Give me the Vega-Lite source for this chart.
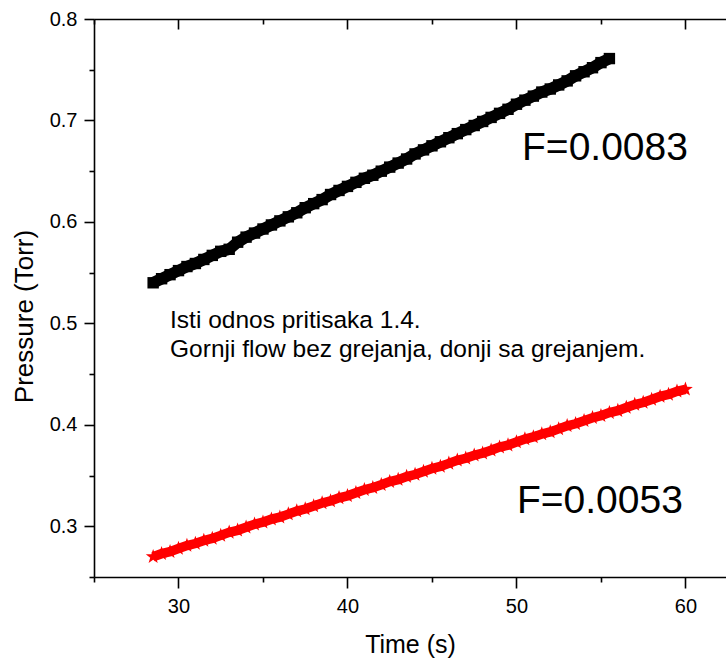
{
  "$schema": "https://vega.github.io/schema/vega-lite/v6.json",
  "autosize": {"type": "none"},
  "padding": {"left": 94, "top": 19, "right": 0, "bottom": 84},
  "width": 632,
  "height": 558,
  "background": "white",
  "config": {
    "view": {"stroke": null},
    "font": "Liberation Sans",
    "axis": {
      "grid": false,
      "domainColor": "black",
      "domainWidth": 1.6,
      "tickColor": "black",
      "tickWidth": 1.6,
      "labelColor": "black",
      "titleColor": "black",
      "labelFont": "Liberation Sans",
      "titleFont": "Liberation Sans",
      "labelFontSize": 20,
      "titleFontSize": 25,
      "titleFontWeight": "normal"
    }
  },
  "datasets": {
    "blackset": [
      {"t": 28.5, "p": 0.540}, {"t": 29.0, "p": 0.544}, {"t": 29.5, "p": 0.548}, {"t": 30.0, "p": 0.552},
      {"t": 30.5, "p": 0.556}, {"t": 31.0, "p": 0.559}, {"t": 31.5, "p": 0.563}, {"t": 32.0, "p": 0.567},
      {"t": 32.5, "p": 0.571}, {"t": 33.0, "p": 0.573}, {"t": 33.5, "p": 0.580}, {"t": 34.0, "p": 0.585},
      {"t": 34.5, "p": 0.589}, {"t": 35.0, "p": 0.593}, {"t": 35.5, "p": 0.597}, {"t": 36.0, "p": 0.601},
      {"t": 36.5, "p": 0.605}, {"t": 37.0, "p": 0.609}, {"t": 37.5, "p": 0.614}, {"t": 38.0, "p": 0.618},
      {"t": 38.5, "p": 0.622}, {"t": 39.0, "p": 0.627}, {"t": 39.5, "p": 0.631}, {"t": 40.0, "p": 0.635},
      {"t": 40.5, "p": 0.639}, {"t": 41.0, "p": 0.643}, {"t": 41.5, "p": 0.646}, {"t": 42.0, "p": 0.650},
      {"t": 42.5, "p": 0.654}, {"t": 43.0, "p": 0.658}, {"t": 43.5, "p": 0.662}, {"t": 44.0, "p": 0.667},
      {"t": 44.5, "p": 0.671}, {"t": 45.0, "p": 0.675}, {"t": 45.5, "p": 0.679}, {"t": 46.0, "p": 0.683},
      {"t": 46.5, "p": 0.687}, {"t": 47.0, "p": 0.691}, {"t": 47.5, "p": 0.695}, {"t": 48.0, "p": 0.699},
      {"t": 48.5, "p": 0.703}, {"t": 49.0, "p": 0.707}, {"t": 49.5, "p": 0.711}, {"t": 50.0, "p": 0.716},
      {"t": 50.5, "p": 0.720}, {"t": 51.0, "p": 0.724}, {"t": 51.5, "p": 0.728}, {"t": 52.0, "p": 0.731},
      {"t": 52.5, "p": 0.735}, {"t": 53.0, "p": 0.739}, {"t": 53.5, "p": 0.744}, {"t": 54.0, "p": 0.748},
      {"t": 54.5, "p": 0.752}, {"t": 55.0, "p": 0.757}, {"t": 55.5, "p": 0.761}
    ],
    "redset": [
      {"t": 28.5, "p": 0.270}, {"t": 29.0, "p": 0.273}, {"t": 29.5, "p": 0.275}, {"t": 30.0, "p": 0.278},
      {"t": 30.5, "p": 0.281}, {"t": 31.0, "p": 0.283}, {"t": 31.5, "p": 0.286}, {"t": 32.0, "p": 0.288},
      {"t": 32.5, "p": 0.291}, {"t": 33.0, "p": 0.294}, {"t": 33.5, "p": 0.296}, {"t": 34.0, "p": 0.299},
      {"t": 34.5, "p": 0.302}, {"t": 35.0, "p": 0.304}, {"t": 35.5, "p": 0.307}, {"t": 36.0, "p": 0.309},
      {"t": 36.5, "p": 0.312}, {"t": 37.0, "p": 0.315}, {"t": 37.5, "p": 0.317}, {"t": 38.0, "p": 0.320},
      {"t": 38.5, "p": 0.323}, {"t": 39.0, "p": 0.325}, {"t": 39.5, "p": 0.328}, {"t": 40.0, "p": 0.330},
      {"t": 40.5, "p": 0.333}, {"t": 41.0, "p": 0.336}, {"t": 41.5, "p": 0.338}, {"t": 42.0, "p": 0.341},
      {"t": 42.5, "p": 0.344}, {"t": 43.0, "p": 0.346}, {"t": 43.5, "p": 0.349}, {"t": 44.0, "p": 0.351},
      {"t": 44.5, "p": 0.354}, {"t": 45.0, "p": 0.357}, {"t": 45.5, "p": 0.359}, {"t": 46.0, "p": 0.362},
      {"t": 46.5, "p": 0.365}, {"t": 47.0, "p": 0.367}, {"t": 47.5, "p": 0.370}, {"t": 48.0, "p": 0.372},
      {"t": 48.5, "p": 0.375}, {"t": 49.0, "p": 0.378}, {"t": 49.5, "p": 0.380}, {"t": 50.0, "p": 0.383},
      {"t": 50.5, "p": 0.386}, {"t": 51.0, "p": 0.388}, {"t": 51.5, "p": 0.391}, {"t": 52.0, "p": 0.393},
      {"t": 52.5, "p": 0.396}, {"t": 53.0, "p": 0.399}, {"t": 53.5, "p": 0.401}, {"t": 54.0, "p": 0.404},
      {"t": 54.5, "p": 0.407}, {"t": 55.0, "p": 0.409}, {"t": 55.5, "p": 0.412}, {"t": 56.0, "p": 0.414},
      {"t": 56.5, "p": 0.417}, {"t": 57.0, "p": 0.420}, {"t": 57.5, "p": 0.422}, {"t": 58.0, "p": 0.425},
      {"t": 58.5, "p": 0.428}, {"t": 59.0, "p": 0.430}, {"t": 59.5, "p": 0.433}, {"t": 60.0, "p": 0.435}
    ],
    "flabels": [
      {"t": 50.33, "p": 0.661, "label": "F=0.0083"},
      {"t": 50.03, "p": 0.3128, "label": "F=0.0053"}
    ],
    "notes": [
      {"t": 29.5, "p": 0.4953, "label": "Isti odnos pritisaka 1.4."},
      {"t": 29.5, "p": 0.4667, "label": "Gornji flow bez grejanja, donji sa grejanjem."}
    ]
  },
  "resolve": {"scale": {"x": "independent"}},
  "layer": [
    {
      "encoding": {
        "x": {"field": "t", "type": "quantitative", "scale": {"domain": [25, 62.4], "nice": false, "zero": false},
          "axis": {"orient": "bottom", "values": [25, 30, 35, 40, 45, 50, 55, 60],
            "tickSize": {"condition": {"test": "datum.value % 10 === 0", "value": 11}, "value": 5},
            "labelExpr": "datum.value % 10 === 0 ? datum.label : ''",
            "labelPadding": 8, "title": "Time (s)", "titlePadding": 16}},
        "y": {"field": "p", "type": "quantitative", "scale": {"domain": [0.25, 0.8], "nice": false, "zero": false},
          "axis": {"orient": "left", "values": [0.25, 0.3, 0.35, 0.4, 0.45, 0.5, 0.55, 0.6, 0.65, 0.7, 0.75, 0.8], "format": ".2f",
            "tickSize": {"condition": {"test": "round(datum.value * 100) % 10 === 0", "value": 10}, "value": 5},
            "labelExpr": "round(datum.value * 100) % 10 === 0 ? format(datum.value, '.1f') : ''",
            "labelPadding": 7, "title": "Pressure (Torr)", "titleFontSize": 26, "titleY": 297, "titlePadding": 12}}
      },
      "layer": [
        {
          "data": {"name": "blackset"},
          "mark": {"type": "line", "strokeWidth": 11.5, "color": "black", "strokeCap": "butt"}
        },
        {
          "data": {"name": "blackset"},
          "mark": {"type": "point", "shape": "square", "filled": true, "size": 130, "color": "black", "opacity": 1}
        },
        {
          "data": {"name": "redset"},
          "mark": {"type": "line", "strokeWidth": 9.5, "color": "#ff0000", "strokeCap": "butt"}
        },
        {
          "data": {"name": "redset"},
          "mark": {"type": "point", "shape": "M0,-1L0.235,-0.324L0.951,-0.309L0.38,0.124L0.588,0.809L0,0.4L-0.588,0.809L-0.38,0.124L-0.951,-0.309L-0.235,-0.324Z", "filled": true, "size": 240, "color": "#ff0000", "opacity": 1}
        },
        {
          "data": {"name": "notes"},
          "mark": {"type": "text", "align": "left", "baseline": "alphabetic", "fontSize": 24.5, "font": "Liberation Sans", "color": "black"},
          "encoding": {"text": {"field": "label"}}
        }
      ]
    },
    {
      "data": {"name": "flabels"},
      "mark": {"type": "text", "align": "left", "baseline": "alphabetic", "fontSize": 39, "font": "Liberation Sans", "color": "black"},
      "encoding": {
        "x": {"field": "t", "type": "quantitative", "scale": {"domain": [25, 62.4], "nice": false, "zero": false},
          "axis": {"orient": "top", "values": [25, 30, 35, 40, 45, 50, 55, 60],
            "tickSize": {"condition": {"test": "datum.value % 10 === 0", "value": -10}, "value": -5},
            "labels": false, "title": null}},
        "y": {"field": "p", "type": "quantitative", "scale": {"domain": [0.25, 0.8], "nice": false, "zero": false},
          "axis": {"orient": "left", "values": [0.25, 0.3, 0.35, 0.4, 0.45, 0.5, 0.55, 0.6, 0.65, 0.7, 0.75, 0.8], "format": ".2f",
            "tickSize": {"condition": {"test": "round(datum.value * 100) % 10 === 0", "value": 10}, "value": 5},
            "labelExpr": "round(datum.value * 100) % 10 === 0 ? format(datum.value, '.1f') : ''",
            "labelPadding": 7, "title": "Pressure (Torr)", "titleFontSize": 26, "titleY": 297, "titlePadding": 12}},
        "text": {"field": "label"}
      }
    }
  ]
}
